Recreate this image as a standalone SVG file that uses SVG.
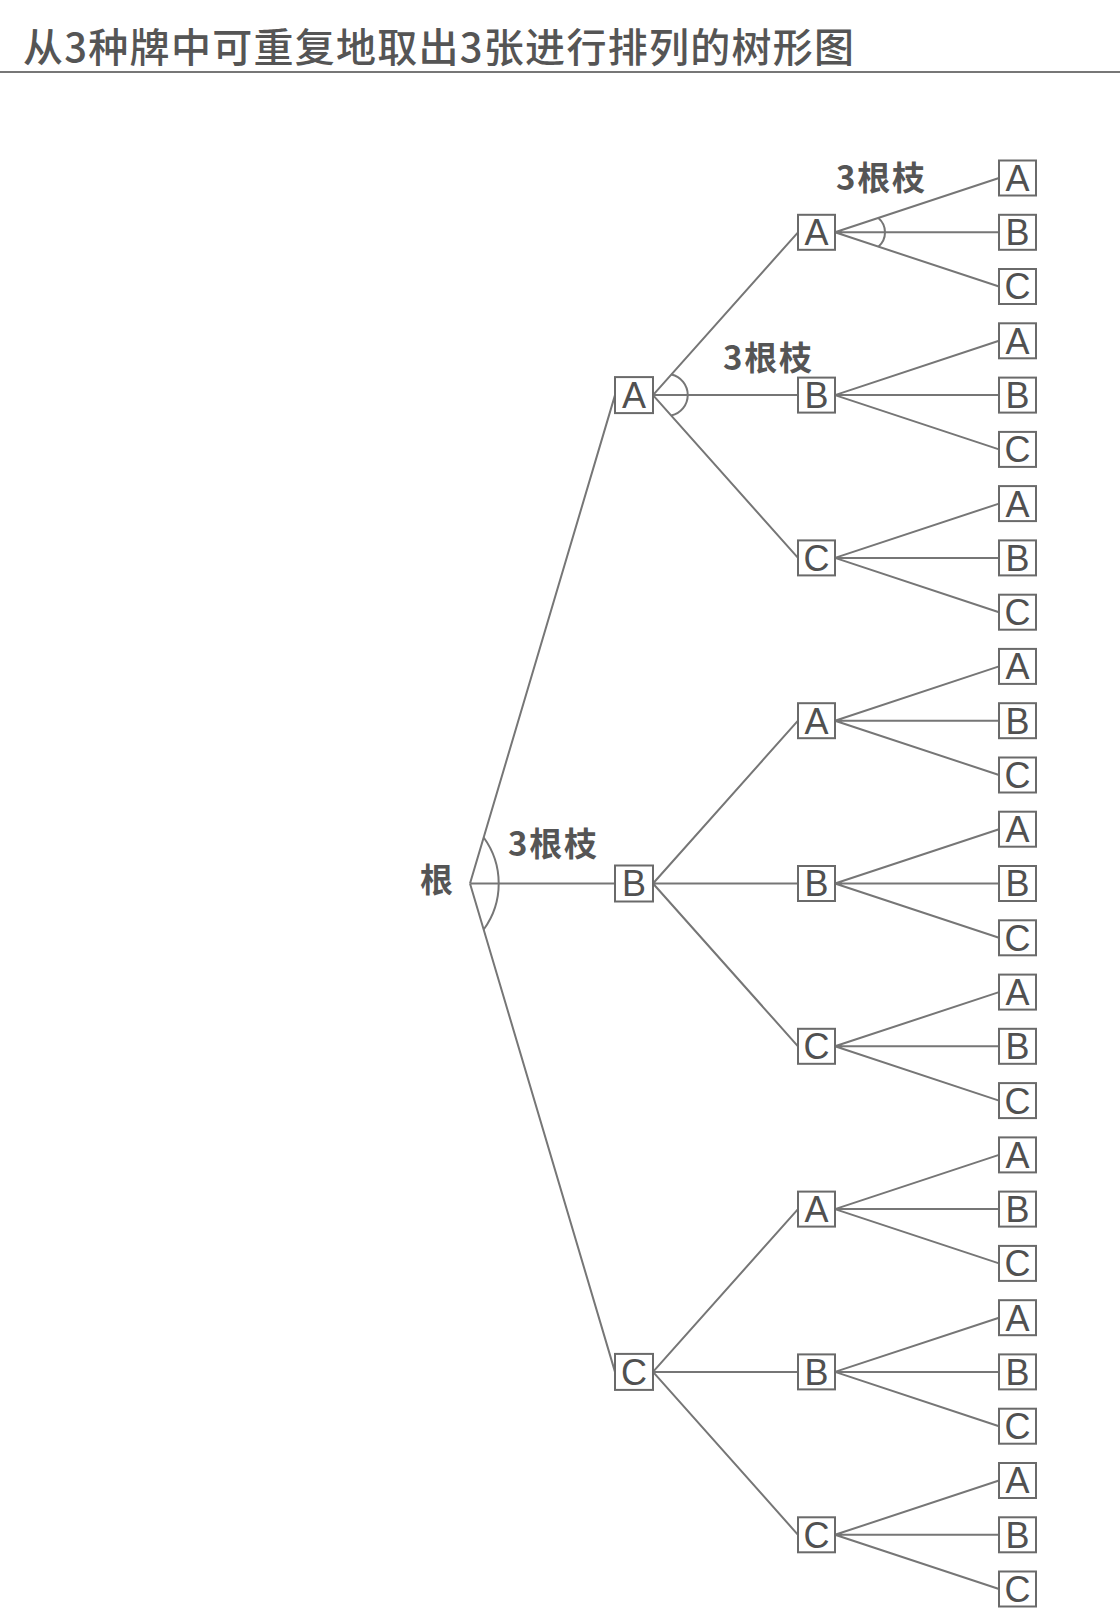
<svg xmlns="http://www.w3.org/2000/svg" width="1120" height="1617" viewBox="0 0 1120 1617">
<style>
.ln{stroke:#767676;stroke-width:2;fill:none}
.bx{fill:#fff;stroke:#6a6a6a;stroke-width:2}
.lt{font-family:"Liberation Sans","Noto Sans",sans-serif;font-size:36px;fill:#505050;text-anchor:middle}
.lb{font-family:"Noto Sans CJK SC","Noto Sans",sans-serif;font-size:33px;font-weight:bold;fill:#555}
.tt{font-family:"Noto Sans CJK SC","Noto Sans",sans-serif;font-size:40px;font-weight:500;fill:#555}
</style>
<rect width="1120" height="1617" fill="#fff"/>
<text class="tt" x="23" y="62" textLength="831" lengthAdjust="spacing">从3种牌中可重复地取出3张进行排列的树形图</text>
<line x1="0" y1="72" x2="1120" y2="72" stroke="#777" stroke-width="2"/>
<g id="connectors">
<path class="ln" d="M470,883.5L615,395.1M470,883.5L615,883.5M470,883.5L615,1371.9"/>
<path class="ln" d="M653,395.1L798,232.3M653,395.1L798,395.1M653,395.1L798,557.9"/>
<path class="ln" d="M653,883.5L798,720.7M653,883.5L798,883.5M653,883.5L798,1046.3"/>
<path class="ln" d="M653,1371.9L798,1209.1M653,1371.9L798,1371.9M653,1371.9L798,1534.8"/>
<path class="ln" d="M835,232.3L999,178M835,232.3L999,232.3M835,232.3L999,286.5"/>
<path class="ln" d="M835,395.1L999,340.8M835,395.1L999,395.1M835,395.1L999,449.4"/>
<path class="ln" d="M835,557.9L999,503.6M835,557.9L999,557.9M835,557.9L999,612.2"/>
<path class="ln" d="M835,720.7L999,666.4M835,720.7L999,720.7M835,720.7L999,775"/>
<path class="ln" d="M835,883.5L999,829.2M835,883.5L999,883.5M835,883.5L999,937.8"/>
<path class="ln" d="M835,1046.3L999,992.1M835,1046.3L999,1046.3M835,1046.3L999,1100.6"/>
<path class="ln" d="M835,1209.1L999,1154.9M835,1209.1L999,1209.1M835,1209.1L999,1263.4"/>
<path class="ln" d="M835,1371.9L999,1317.7M835,1371.9L999,1371.9M835,1371.9L999,1426.2"/>
<path class="ln" d="M835,1534.8L999,1480.5M835,1534.8L999,1534.8M835,1534.8L999,1589"/>
<path class="ln" d="M483.7,837.5A78,78 0 0 1 483.7,929.5"/>
<path class="ln" d="M671.3,374.6A21,21 0 0 1 671.3,415.6"/>
<path class="ln" d="M878.4,217.9A19,19 0 0 1 878.4,246.7"/>
</g>
<g id="labels">
<text class="lb" x="508" y="856" textLength="89" lengthAdjust="spacing">3根枝</text>
<text class="lb" x="723" y="370" textLength="89" lengthAdjust="spacing">3根枝</text>
<text class="lb" x="836" y="190" textLength="89" lengthAdjust="spacing">3根枝</text>
</g>
<g id="root"><text class="lb" x="420" y="892">根</text></g>
<g id="l1-A"><rect class="bx" x="615" y="377.1" width="38" height="36"/><text class="lt" x="634" y="408">A</text></g>
<g id="l1-B"><rect class="bx" x="615" y="865.5" width="38" height="36"/><text class="lt" x="634" y="896.4">B</text></g>
<g id="l1-C"><rect class="bx" x="615" y="1353.9" width="38" height="36"/><text class="lt" x="634" y="1384.8">C</text></g>
<g id="l2-AA"><rect class="bx" x="798" y="214.8" width="37" height="35"/><text class="lt" x="816.5" y="245.2">A</text></g>
<g id="l2-AB"><rect class="bx" x="798" y="377.6" width="37" height="35"/><text class="lt" x="816.5" y="408">B</text></g>
<g id="l2-AC"><rect class="bx" x="798" y="540.4" width="37" height="35"/><text class="lt" x="816.5" y="570.8">C</text></g>
<g id="l2-BA"><rect class="bx" x="798" y="703.2" width="37" height="35"/><text class="lt" x="816.5" y="733.6">A</text></g>
<g id="l2-BB"><rect class="bx" x="798" y="866" width="37" height="35"/><text class="lt" x="816.5" y="896.4">B</text></g>
<g id="l2-BC"><rect class="bx" x="798" y="1028.8" width="37" height="35"/><text class="lt" x="816.5" y="1059.2">C</text></g>
<g id="l2-CA"><rect class="bx" x="798" y="1191.6" width="37" height="35"/><text class="lt" x="816.5" y="1222">A</text></g>
<g id="l2-CB"><rect class="bx" x="798" y="1354.4" width="37" height="35"/><text class="lt" x="816.5" y="1384.8">B</text></g>
<g id="l2-CC"><rect class="bx" x="798" y="1517.3" width="37" height="35"/><text class="lt" x="816.5" y="1547.7">C</text></g>
<g id="leaves">
<g id="l3-0"><rect class="bx" x="999" y="160.5" width="37" height="35"/><text class="lt" x="1017.5" y="190.9">A</text></g>
<g id="l3-1"><rect class="bx" x="999" y="214.8" width="37" height="35"/><text class="lt" x="1017.5" y="245.2">B</text></g>
<g id="l3-2"><rect class="bx" x="999" y="269" width="37" height="35"/><text class="lt" x="1017.5" y="299.4">C</text></g>
<g id="l3-3"><rect class="bx" x="999" y="323.3" width="37" height="35"/><text class="lt" x="1017.5" y="353.7">A</text></g>
<g id="l3-4"><rect class="bx" x="999" y="377.6" width="37" height="35"/><text class="lt" x="1017.5" y="408">B</text></g>
<g id="l3-5"><rect class="bx" x="999" y="431.9" width="37" height="35"/><text class="lt" x="1017.5" y="462.3">C</text></g>
<g id="l3-6"><rect class="bx" x="999" y="486.1" width="37" height="35"/><text class="lt" x="1017.5" y="516.5">A</text></g>
<g id="l3-7"><rect class="bx" x="999" y="540.4" width="37" height="35"/><text class="lt" x="1017.5" y="570.8">B</text></g>
<g id="l3-8"><rect class="bx" x="999" y="594.7" width="37" height="35"/><text class="lt" x="1017.5" y="625.1">C</text></g>
<g id="l3-9"><rect class="bx" x="999" y="648.9" width="37" height="35"/><text class="lt" x="1017.5" y="679.3">A</text></g>
<g id="l3-10"><rect class="bx" x="999" y="703.2" width="37" height="35"/><text class="lt" x="1017.5" y="733.6">B</text></g>
<g id="l3-11"><rect class="bx" x="999" y="757.5" width="37" height="35"/><text class="lt" x="1017.5" y="787.9">C</text></g>
<g id="l3-12"><rect class="bx" x="999" y="811.7" width="37" height="35"/><text class="lt" x="1017.5" y="842.1">A</text></g>
<g id="l3-13"><rect class="bx" x="999" y="866" width="37" height="35"/><text class="lt" x="1017.5" y="896.4">B</text></g>
<g id="l3-14"><rect class="bx" x="999" y="920.3" width="37" height="35"/><text class="lt" x="1017.5" y="950.7">C</text></g>
<g id="l3-15"><rect class="bx" x="999" y="974.6" width="37" height="35"/><text class="lt" x="1017.5" y="1005">A</text></g>
<g id="l3-16"><rect class="bx" x="999" y="1028.8" width="37" height="35"/><text class="lt" x="1017.5" y="1059.2">B</text></g>
<g id="l3-17"><rect class="bx" x="999" y="1083.1" width="37" height="35"/><text class="lt" x="1017.5" y="1113.5">C</text></g>
<g id="l3-18"><rect class="bx" x="999" y="1137.4" width="37" height="35"/><text class="lt" x="1017.5" y="1167.8">A</text></g>
<g id="l3-19"><rect class="bx" x="999" y="1191.6" width="37" height="35"/><text class="lt" x="1017.5" y="1222">B</text></g>
<g id="l3-20"><rect class="bx" x="999" y="1245.9" width="37" height="35"/><text class="lt" x="1017.5" y="1276.3">C</text></g>
<g id="l3-21"><rect class="bx" x="999" y="1300.2" width="37" height="35"/><text class="lt" x="1017.5" y="1330.6">A</text></g>
<g id="l3-22"><rect class="bx" x="999" y="1354.4" width="37" height="35"/><text class="lt" x="1017.5" y="1384.8">B</text></g>
<g id="l3-23"><rect class="bx" x="999" y="1408.7" width="37" height="35"/><text class="lt" x="1017.5" y="1439.1">C</text></g>
<g id="l3-24"><rect class="bx" x="999" y="1463" width="37" height="35"/><text class="lt" x="1017.5" y="1493.4">A</text></g>
<g id="l3-25"><rect class="bx" x="999" y="1517.3" width="37" height="35"/><text class="lt" x="1017.5" y="1547.7">B</text></g>
<g id="l3-26"><rect class="bx" x="999" y="1571.5" width="37" height="35"/><text class="lt" x="1017.5" y="1601.9">C</text></g>
</g>
</svg>
